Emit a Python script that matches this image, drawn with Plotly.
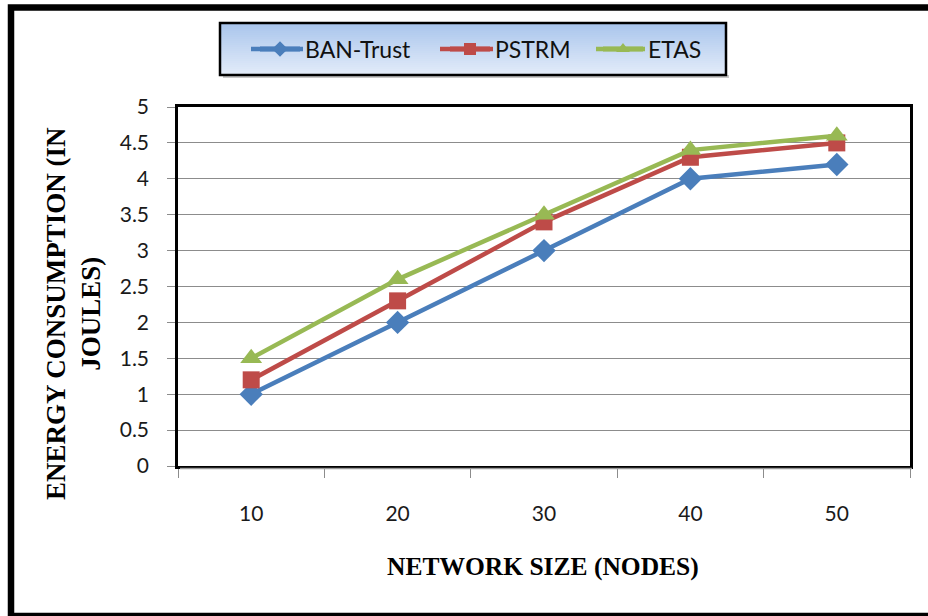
import plotly.graph_objects as go

network_size = ["10", "20", "30", "40", "50"]
ban_trust = [1.0, 2.0, 3.0, 4.0, 4.2]
pstrm = [1.2, 2.3, 3.4, 4.3, 4.5]
etas = [1.5, 2.6, 3.5, 4.4, 4.6]
y_ticks = [0, 0.5, 1, 1.5, 2, 2.5, 3, 3.5, 4, 4.5, 5]
y_tick_labels = ["0", "0.5", "1", "1.5", "2", "2.5", "3", "3.5", "4", "4.5", "5"]

W, H = 928, 616
L, R, T, B = 178, 910, 107, 466


def px(x):
    return (x - L) / (R - L)


def py(y):
    return (B - y) / (B - T)


fig = go.Figure()
fig.add_trace(go.Scatter(x=network_size, y=ban_trust, name="BAN-Trust", mode="lines+markers",
                         line=dict(color="#4A7EBB", width=4.5), legend="legend",
                         marker=dict(symbol="diamond", size=18, color="#4A7EBB")))
fig.add_trace(go.Scatter(x=network_size, y=pstrm, name="PSTRM", mode="lines+markers",
                         line=dict(color="#BE4B48", width=4.5), legend="legend2",
                         marker=dict(symbol="square", size=17, color="#BE4B48")))
fig.add_trace(go.Scatter(x=network_size, y=etas, name="ETAS", mode="lines+markers",
                         line=dict(color="#98B954", width=4.5), legend="legend3",
                         marker=dict(symbol="triangle-up", size=19, color="#98B954")))

shapes = []
# legend box gradient
x0, x1, y0, y1 = 220, 726, 23, 75
n = 26
top = (170, 198, 236)
bot = (226, 235, 249)
for i in range(n):
    t = i / (n - 1)
    c = tuple(int(round(top[k] + (bot[k] - top[k]) * t)) for k in range(3))
    ya = y0 + (y1 - y0) * i / n
    yb = y0 + (y1 - y0) * (i + 1) / n
    shapes.append(dict(type="rect", xref="paper", yref="paper", layer="below",
                       x0=px(x0), x1=px(x1), y0=py(ya), y1=py(yb + 0.6),
                       fillcolor="rgb(%d,%d,%d)" % c, line=dict(width=0)))
shapes.append(dict(type="rect", xref="paper", yref="paper", layer="below",
                   x0=px(x0 + 3), x1=px(x1 + 3), y0=py(y1 + 3), y1=py(y1),
                   fillcolor="#c8c8c8", line=dict(width=0)))
shapes.append(dict(type="rect", xref="paper", yref="paper",
                   x0=px(x0), x1=px(x1), y0=py(y0), y1=py(y1),
                   fillcolor="rgba(0,0,0,0)", line=dict(color="black", width=2.5)))
# legend line segments (longer than plotly's default symbol)
leg_y = 49
for (a, b), col in zip([(251, 303), (440, 493), (596, 645)], ["#4A7EBB", "#BE4B48", "#98B954"]):
    shapes.append(dict(type="line", xref="paper", yref="paper",
                       x0=px(a), x1=px(b), y0=py(leg_y), y1=py(leg_y),
                       line=dict(color=col, width=4.5)))
# plot area shadow
shapes.append(dict(type="line", xref="paper", yref="paper",
                   x0=px(L + 2), x1=px(R + 2), y0=py(B + 2.5), y1=py(B + 2.5),
                   line=dict(color="#9a9a9a", width=1.5)))
# outer frame
shapes.append(dict(type="path", xref="paper", yref="paper",
                   path="M %f %f L %f %f L %f %f L %f %f" % (
                       px(940), py(7.5), px(11), py(7.5), px(11), py(616), px(940), py(616)),
                   line=dict(color="black", width=6.5)))

leg_font = dict(family="Lato", size=23, color="#111111")


def leg(xpix):
    return dict(x=px(xpix), y=py(leg_y), xanchor="left", yanchor="middle",
                bgcolor="rgba(0,0,0,0)", borderwidth=0, font=leg_font,
                itemsizing="constant", itemwidth=40, orientation="h")


fig.update_layout(
    width=W, height=H,
    margin=dict(l=L, r=W - R, t=T, b=H - B, pad=0),
    paper_bgcolor="white", plot_bgcolor="white",
    showlegend=True,
    legend=leg(255),
    legend2=leg(445),
    legend3=leg(598),
    shapes=shapes,
    annotations=[
        dict(text="NETWORK SIZE (NODES)", xref="paper", yref="paper",
             x=px(543), y=py(566), xanchor="center", yanchor="middle", showarrow=False,
             font=dict(family="Liberation Serif", size=25.5, color="black", weight="bold")),
        dict(text="ENERGY CONSUMPTION (IN<br>JOULES)", xref="paper", yref="paper",
             x=px(73), y=py(314), xanchor="center", yanchor="middle", showarrow=False,
             textangle=-90,
             font=dict(family="Liberation Serif", size=27, color="black", weight="bold")),
    ],
)

fig.update_xaxes(type="category", range=[-0.5, 4.5], tickson="boundaries",
                 ticks="outside", ticklen=9, tickcolor="#8c8c8c", tickwidth=1.2,
                 showline=True, linecolor="black", linewidth=2.5, mirror=True,
                 showgrid=False, zeroline=False, ticklabelstandoff=27,
                 tickfont=dict(family="Lato", size=21, color="#1a1a1a"))
fig.update_yaxes(range=[0, 5], tickvals=y_ticks, ticktext=y_tick_labels,
                 ticks="outside", ticklen=8, tickcolor="#8c8c8c", tickwidth=1.2,
                 showline=True, linecolor="black", linewidth=2.5, mirror=True,
                 showgrid=True, gridcolor="#8c8c8c", gridwidth=1.2, zeroline=False,
                 ticklabelstandoff=14,
                 tickfont=dict(family="Lato", size=21, color="#1a1a1a"))

fig.write_html("out.html")
